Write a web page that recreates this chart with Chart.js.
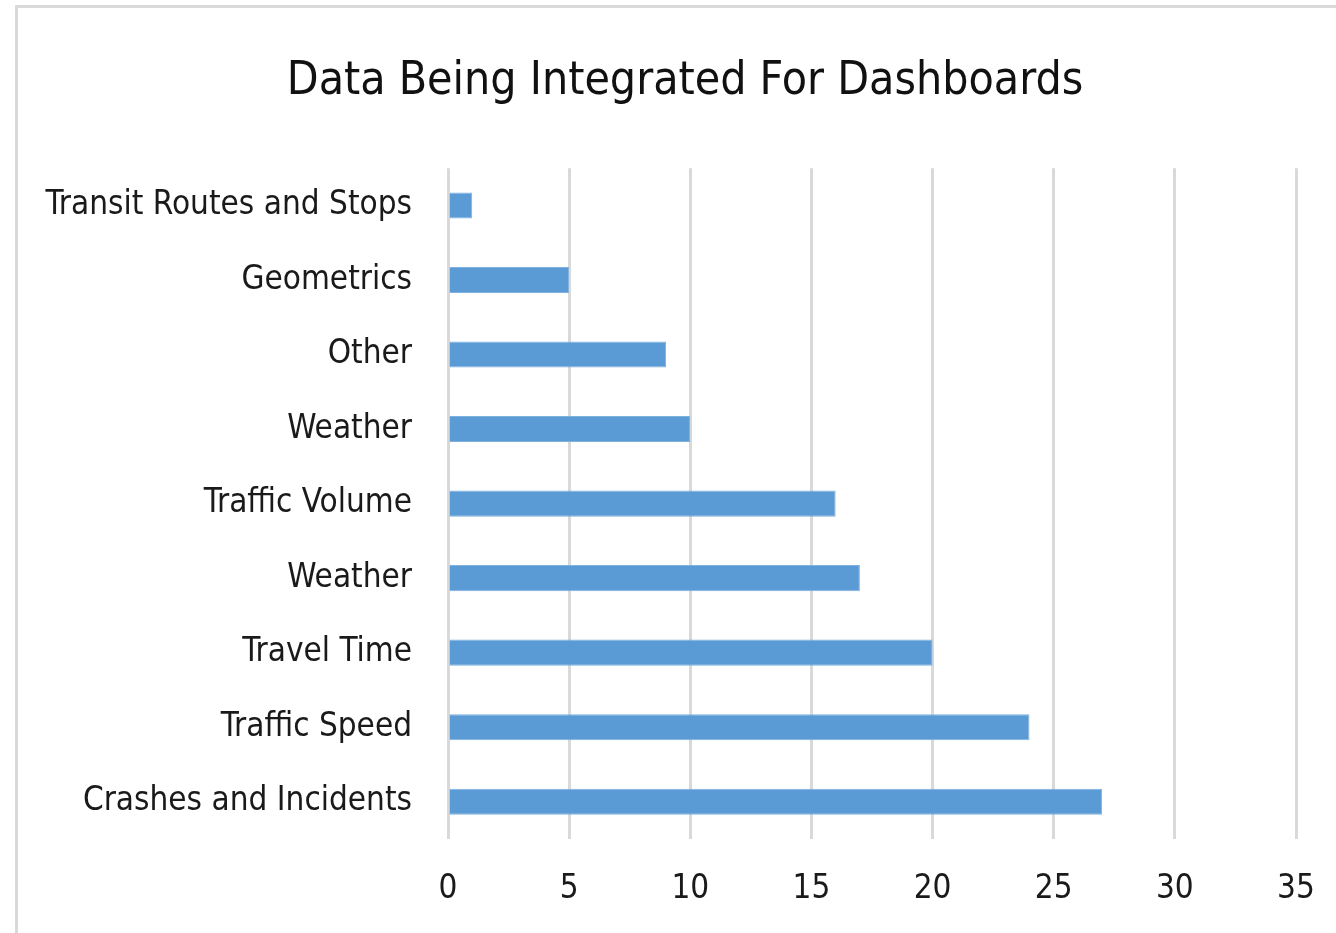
<!DOCTYPE html>
<html>
<head>
<meta charset="utf-8">
<script src="https://cdn.jsdelivr.net/npm/chart.js@4"></script>
<style>
  html, body { margin: 0; padding: 0; background: #fff; overflow: hidden; }
</style>
</head>
<body>
<canvas id="dashChart" width="1336" height="933"></canvas>
<script>
const categories = [
  "Transit Routes and Stops",
  "Geometrics",
  "Other",
  "Weather",
  "Traffic Volume",
  "Weather",
  "Travel Time",
  "Traffic Speed",
  "Crashes and Incidents",
];
const counts = [1, 5, 9, 10, 16, 17, 20, 24, 27];
const xMax = 35;
const xStep = 5;

const FONT = "'DejaVu Sans Condensed', 'Liberation Sans Narrow', Roboto, sans-serif";

// light frame on the left and top, like the clipped Excel chart box
const frame = {
  id: "frame",
  beforeDraw(chart) {
    const c = chart.ctx;
    c.save();
    c.strokeStyle = "#d9d9d9";
    c.lineWidth = 3;
    c.beginPath();
    c.moveTo(16.5, chart.height);
    c.lineTo(16.5, 6.5);
    c.lineTo(chart.width, 6.5);
    c.stroke();
    c.restore();
  },
  // the original box runs past the right edge, so its title sits right of centre
  afterLayout(chart) {
    chart.titleBlock.left += 54;
  },
};

new Chart(document.getElementById("dashChart").getContext("2d"), {
  type: "bar",
  data: {
    labels: categories,
    datasets: [
      {
        label: "Count",
        data: counts,
        backgroundColor: "#5b9bd5",
        borderColor: "#7fb1df",
        borderWidth: 1,
        barPercentage: 0.35,
        categoryPercentage: 1,
      },
    ],
  },
  options: {
    indexAxis: "y",
    responsive: false,
    animation: false,
    layout: { padding: { left: 20, right: 40, top: 0, bottom: 0 } },
    plugins: {
      legend: { display: false },
      tooltip: { enabled: false },
      title: {
        display: true,
        text: "Data Being Integrated For Dashboards",
        color: "#111",
        font: { family: FONT, size: 46, weight: "normal" },
        padding: { top: 54, bottom: 59 },
      },
    },
    scales: {
      x: {
        min: 0,
        max: xMax,
        ticks: {
          stepSize: xStep,
          color: "#1a1a1a",
          padding: 31,
          font: { family: FONT, size: 33 },
        },
        grid: { color: "#d9d9d9", lineWidth: 3, drawTicks: false },
        border: { display: false },
        afterFit(axis) {
          axis.height = 94;
          axis.paddingLeft = 0;
          axis.paddingRight = 0;
        },
      },
      y: {
        ticks: {
          color: "#1a1a1a",
          padding: 28,
          font: { family: FONT, size: 33 },
        },
        grid: { display: false },
        border: { display: false },
        afterFit(axis) {
          axis.width = 428;
        },
      },
    },
  },
  plugins: [frame],
});
</script>
</body>
</html>
